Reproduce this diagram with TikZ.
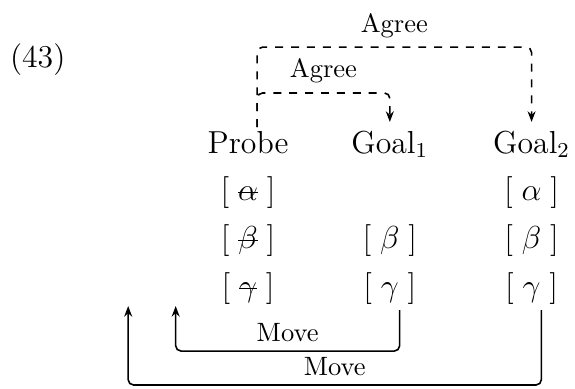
\documentclass[tikz,border=0pt]{standalone}
\usetikzlibrary{arrows.meta}
\newcommand{\struckout}[1]{\sbox0{$#1$}\rlap{\raisebox{0.5ex}{\rule{\wd0}{0.5pt}}}\usebox0}
\newcommand{\feat}[1]{$[\;#1\;]$}
\tikzset{
  word/.style={font=\large, anchor=base, inner sep=3pt},
  agree/.style={dashed, rounded corners=2pt, -{Stealth[length=4pt,width=3pt]}},
  move/.style={rounded corners=2pt, -{Stealth[length=4pt,width=3pt]}},
}
\begin{document}
\begin{tikzpicture}[line width=0.6pt]
\useasboundingbox (0,0) rectangle (7.626,5.146);
\node (exnum) at (0.50,4.35) {\large (43)};

% heads
\node[word] (probe) at (3.29,3.116) {Probe};
\node[word] (goalA) at (5.17,3.116) {Goal$_1$};
\node[word] (goalB) at (7.05,3.116) {Goal$_2$};

% features
\node[word] (pa) at (3.29,2.493) {\feat{\struckout{\alpha}}};
\node[word] (pb) at (3.29,1.856) {\feat{\struckout{\beta}}};
\node[word] (pc) at (3.29,1.220) {\feat{\struckout{\gamma}}};
\node[word] (gab) at (5.17,1.856) {\feat{\beta}};
\node[word] (gac) at (5.17,1.220) {\feat{\gamma}};
\node[word] (gba) at (7.05,2.493) {\feat{\alpha}};
\node[word] (gbb) at (7.05,1.856) {\feat{\beta}};
\node[word] (gbc) at (7.05,1.220) {\feat{\gamma}};

% Agree
\coordinate (agreeHi) at (3.41,4.52);
\coordinate (agreeLo) at (3.41,3.912);
\draw[agree] ([yshift=-1.8pt]probe.north -| agreeHi) -- (agreeHi) -| (goalB.north) node[pos=0.25, above] {Agree};
\draw[agree] ([yshift=-1.8pt]probe.north -| agreeLo) -- (agreeLo) -| (goalA.north) node[pos=0.25, above] {Agree};

% Move
\coordinate (moveA) at (2.33,1.087);
\coordinate (moveB) at (1.70,1.087);
\draw[move] ([xshift=0.13cm,yshift=1pt]gac.south) -- ([xshift=0.13cm]gac.south |- 0,0.49) -| (moveA) node[pos=0.25, above] {Move};
\draw[move] ([xshift=0.13cm,yshift=1pt]gbc.south) -- ([xshift=0.13cm]gbc.south |- 0,0.04) -| (moveB) node[pos=0.25, above] {Move};
\end{tikzpicture}
\end{document}
